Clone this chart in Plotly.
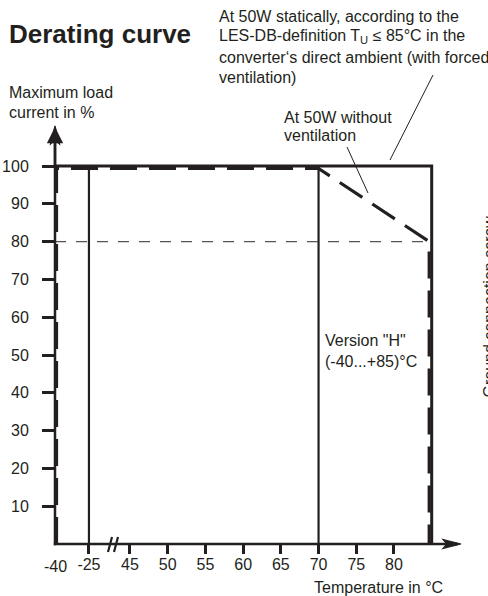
import plotly.graph_objects as go

# ---------------- data ----------------
x_tick_temps = [-40, -25, 45, 50, 55, 60, 65, 70, 75, 80]
y_tick_vals = [10, 20, 30, 40, 50, 60, 70, 80, 90, 100]

forced_temp = [-40, 85, 85]          # with forced ventilation
forced_load = [100, 100, 0]

noforce_temp = [-40, -40, 70, 85, 85]  # without ventilation
noforce_load = [0, 100, 100, 80, 0]

version_lines_temp = [-25, 70]       # vertical boundary lines
ref_load = 80                        # thin dashed reference

# ---------------- broken-axis mapping ----------------
PX_PER_X = 7.543   # px per °C (upper segment)
PX_PER_Y = 3.78    # px per %
LOW_ORIGIN = 35.06
LOW_SCALE = 0.30


def pos(t):
    """map temperature to axis coordinate (axis is broken between -25 and 45)"""
    if t <= -25:
        return LOW_ORIGIN + (t + 40) * LOW_SCALE
    return t


# plot area in pixels
PL, PR, PT, PB = 55, 462, 130, 544
W, H = PR - PL, PB - PT
X_RANGE = [LOW_ORIGIN, LOW_ORIGIN + W / PX_PER_X]
Y_RANGE = [0, H / PX_PER_Y]


def px(x):
    return (x - PL) / W


def py(y):
    return (PB - y) / H


INK = "#231f20"
FONT = "Liberation Sans, Arial, sans-serif"

fig = go.Figure()

# vertical boundary lines
for t in version_lines_temp:
    fig.add_trace(go.Scatter(x=[pos(t), pos(t)], y=[0, 100], mode="lines",
                             line=dict(color=INK, width=2.2), hoverinfo="skip",
                             showlegend=False))

# reference dashed line at 80 %
fig.add_trace(go.Scatter(x=[pos(-40), pos(85)], y=[ref_load, ref_load], mode="lines",
                         line=dict(color="#555555", width=1.2, dash="11px,10px"),
                         hoverinfo="skip", showlegend=False))

# forced ventilation curve (solid)
fig.add_trace(go.Scatter(x=[pos(t) for t in forced_temp], y=forced_load, mode="lines",
                         line=dict(color=INK, width=3), hoverinfo="skip",
                         showlegend=False))

# without ventilation (dashed), drawn slightly inside the solid frame
dx_l = 1.5 / PX_PER_X
dx_r = 2.5 / PX_PER_X
dy_t = 2.5 / PX_PER_Y
nx, ny = [], []
for t, v in zip(noforce_temp, noforce_load):
    xx = pos(t)
    if t == -40:
        xx += dx_l
    if t == 85:
        xx -= dx_r
    yy = v - dy_t if v == 100 else v
    nx.append(xx)
    ny.append(yy)
fig.add_trace(go.Scatter(x=nx, y=ny, mode="lines",
                         line=dict(color=INK, width=3.2, dash="27px,12px"),
                         hoverinfo="skip", showlegend=False))

annotations = []


def text_lines(lines, left, first_center, pitch, size=16, bold=False):
    for i, s in enumerate(lines):
        annotations.append(dict(
            x=px(left), y=py(first_center + i * pitch), xref="paper", yref="paper",
            xanchor="left", yanchor="middle", showarrow=False,
            text=("<b>%s</b>" % s) if bold else s,
            font=dict(family=FONT, size=size, color=INK)))


text_lines(["Derating curve"], 7, 34, 0, size=26, bold=True)
text_lines(["At 50W statically, according to the",
            "LES-DB-definition T<sub>U</sub> ≤ 85°C in the",
            "converter‘s direct ambient (with forced",
            "ventilation)"], 217, 17, 20)
text_lines(["Maximum load", "current in %"], 7, 92, 20)
text_lines(["At 50W without", "ventilation"], 282, 117, 19)
text_lines(['Version "H"', "(-40...+85)°C"], 323, 340, 21)
text_lines(["Temperature in °C"], 312, 587, 0)

# "-40" label at the origin (no tick mark there)
annotations.append(dict(x=pos(x_tick_temps[0]), y=py(566), xref="x", yref="paper",
                        xanchor="center", yanchor="middle", showarrow=False,
                        text=str(x_tick_temps[0]),
                        font=dict(family=FONT, size=16, color=INK)))

annotations.append(dict(x=px(488.5), y=py(306), xref="paper", yref="paper",
                        xanchor="center", yanchor="middle", showarrow=False,
                        textangle=-90, text="Ground connection screw",
                        font=dict(family=FONT, size=16, color=INK)))

# y-axis arrow (annotation arrow, paper-referenced so it is never hidden)
annotations.append(dict(x=0, y=py(127), xref="paper", yref="paper",
                        ax=0, ay=40, axref="pixel", ayref="pixel",
                        showarrow=True, arrowhead=2, arrowsize=1.3, arrowwidth=2.5,
                        arrowcolor=INK, text="", standoff=0))

shapes = []
# axis lines
shapes.append(dict(type="line", xref="paper", yref="paper",
                   x0=px(PL), y0=py(PB + 1.2), x1=px(PL), y1=py(132),
                   line=dict(color=INK, width=2.5)))
shapes.append(dict(type="line", xref="paper", yref="paper",
                   x0=px(PL - 1.2), y0=py(PB), x1=px(458), y1=py(PB),
                   line=dict(color=INK, width=2.5)))
# leader lines
shapes.append(dict(type="line", xref="paper", yref="paper",
                   x0=px(433), y0=py(75), x1=px(390), y1=py(160),
                   line=dict(color=INK, width=1)))
shapes.append(dict(type="line", xref="paper", yref="paper",
                   x0=px(347), y0=py(147), x1=px(368), y1=py(193),
                   line=dict(color=INK, width=1)))
# axis break marks
for bx in (108, 114):
    shapes.append(dict(type="line", xref="paper", yref="paper",
                       x0=px(bx), y0=py(552), x1=px(bx + 4), y1=py(537),
                       line=dict(color=INK, width=2.2)))


def path(points):
    return "M" + "L".join("%.5f,%.5f" % (px(a), py(b)) for a, b in points) + "Z"


# arrowheads (narrow, concave back)
shapes.append(dict(type="path", xref="paper", yref="paper",
                   path=path([(PL, 126), (PL + 4.5, 144), (PL, 140), (PL - 4.5, 144)]),
                   fillcolor=INK, line=dict(color=INK, width=1.2)))
shapes.append(dict(type="path", xref="paper", yref="paper",
                   path=path([(461, PB), (443, PB - 4.5), (447, PB), (443, PB + 4.5)]),
                   fillcolor=INK, line=dict(color=INK, width=1.2)))

tick_font = dict(family=FONT, size=16, color=INK)

fig.update_layout(
    width=488, height=596, autosize=False,
    margin=dict(l=PL, r=488 - PR, t=PT, b=596 - PB, pad=0, autoexpand=False),
    paper_bgcolor="white", plot_bgcolor="white",
    showlegend=False,
    xaxis=dict(range=X_RANGE, showgrid=False, zeroline=False, automargin=False,
               showline=False,
               tickmode="array",
               tickvals=[pos(t) for t in x_tick_temps[1:]],
               ticktext=[str(t) for t in x_tick_temps[1:]],
               ticks="outside", ticklen=9, tickwidth=2.5, tickcolor=INK,
               tickfont=tick_font, ticklabelstandoff=-3, fixedrange=True),
    yaxis=dict(range=Y_RANGE, showgrid=False, zeroline=False, automargin=False,
               showline=False,
               tickmode="array", tickvals=y_tick_vals,
               ticktext=[str(v) for v in y_tick_vals],
               ticks="outside", ticklen=12, tickwidth=3, tickcolor=INK,
               tickfont=tick_font, ticklabelstandoff=10, fixedrange=True),
    annotations=annotations,
    shapes=shapes,
)

fig.write_html("out.html")
